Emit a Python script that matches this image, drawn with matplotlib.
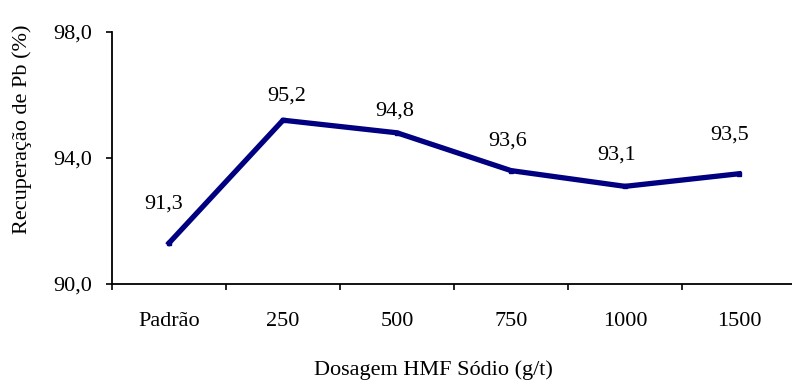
import matplotlib.pyplot as plt
import numpy as np

plt.rcParams['font.family'] = ['Liberation Serif', 'DejaVu Serif']

dosagens = ['Padrão', '250', '500', '750', '1000', '1500']
recuperacao = [91.3, 95.2, 94.8, 93.6, 93.1, 93.5]

# posição dos rótulos em relação ao ponto (px)
rotulo_dx = [-5, 4, -2, -3, -8, -9]
rotulo_dy = [39, 24, 22, 30, 31, 39]

FS = 16
fig = plt.figure(figsize=(7.92, 3.85), dpi=100)
ax = fig.add_axes([112 / 792, 1 - 284 / 385, 684 / 792, 252 / 385])

xs = np.arange(len(dosagens))
ax.plot(xs, recuperacao, color='#000080', lw=3.8, marker='s', ms=3,
        solid_joinstyle='round', clip_on=False)

for i, v in enumerate(recuperacao):
    ax.annotate(f'{v:.1f}'.replace('.', ','), (xs[i], v),
                xytext=(rotulo_dx[i] * 0.72, rotulo_dy[i] * 0.72),
                textcoords='offset points', ha='center', va='center',
                fontsize=FS)

ax.set_xlim(-0.5, len(dosagens) - 0.5)
ax.set_ylim(90, 98)
ax.set_yticks([90, 94, 98])
ax.set_yticklabels(['90,0', '94,0', '98,0'], fontsize=FS)
ax.set_xticks(np.arange(len(dosagens) + 1) - 0.5)
ax.set_xticklabels([])
ax.set_xticks(xs, minor=True)
ax.set_xticklabels(dosagens, minor=True, fontsize=FS)
ax.tick_params(axis='x', which='major', direction='out', length=4.5, width=1.2)
ax.tick_params(axis='x', which='minor', length=0, pad=20)
ax.tick_params(axis='y', direction='out', length=4.5, width=1.2, pad=10)

for lado in ['top', 'right']:
    ax.spines[lado].set_visible(False)
for lado in ['left', 'bottom']:
    ax.spines[lado].set_linewidth(1.3)

fig.text(433 / 792, 1 - 370 / 385, 'Dosagem HMF Sódio (g/t)', fontsize=FS,
         ha='center', va='center')
fig.text(22 / 792, 1 - 129 / 385, 'Recuperação de Pb (%)', fontsize=FS,
         ha='center', va='center', rotation=90)

fig.savefig('out.png', dpi=100)
